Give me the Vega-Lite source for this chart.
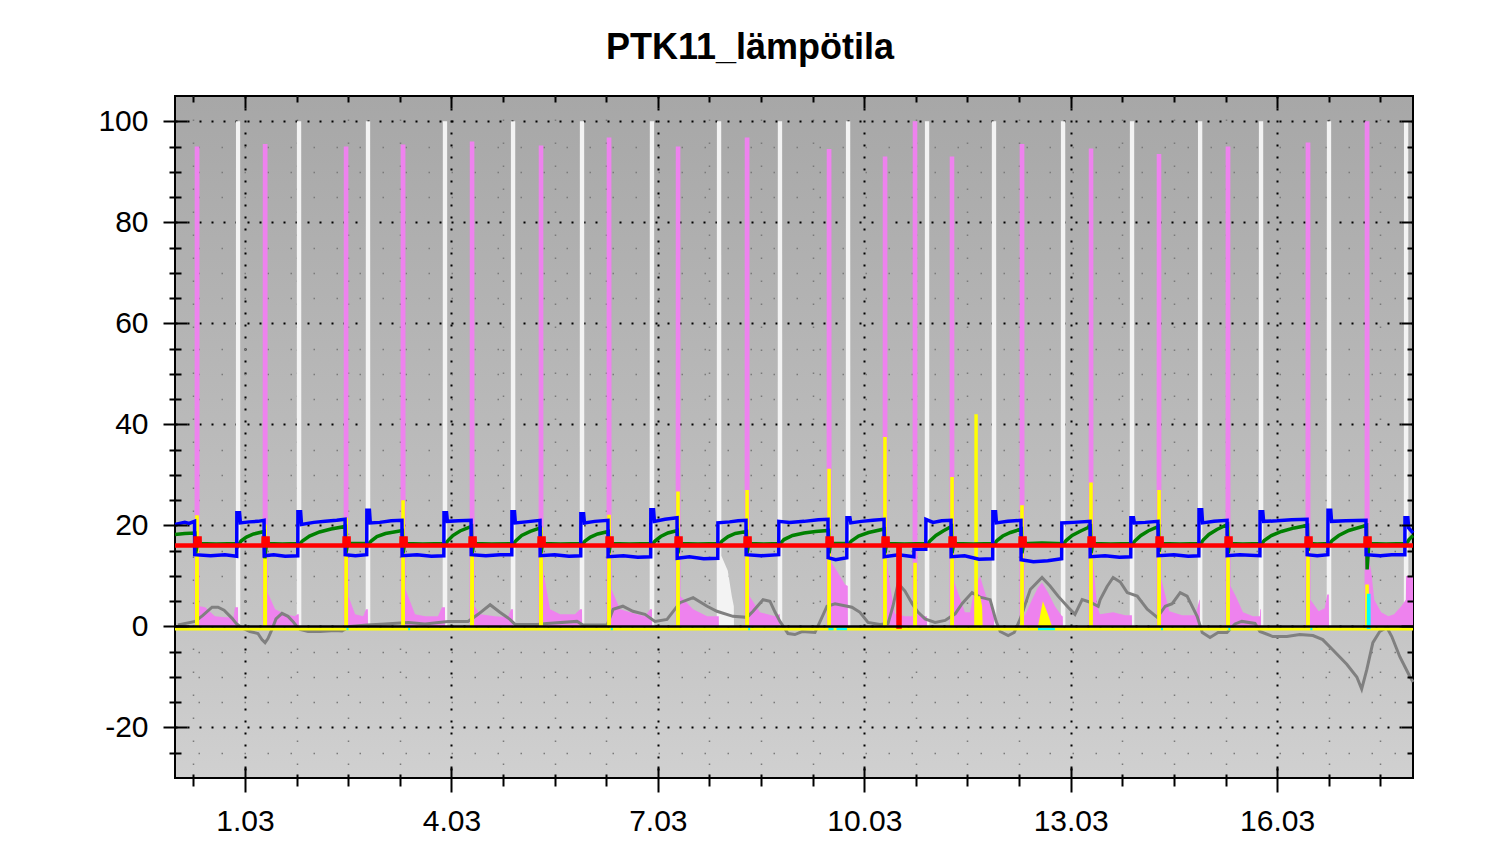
{
  "$schema": "https://vega.github.io/schema/vega-lite/v6.json",
  "width": 1238,
  "height": 682,
  "autosize": "none",
  "padding": {"left": 175, "top": 96, "right": 87, "bottom": 79},
  "background": "#ffffff",
  "title": {"text": "PTK11_lämpötila", "font": "Liberation Sans", "fontSize": 36, "fontWeight": "bold", "color": "#000000", "anchor": "middle", "frame": "bounds", "offset": 28, "dx": -10},
  "config": {
    "view": {"stroke": "#000000", "strokeWidth": 2, "fill": {"gradient": "linear", "x1": 0, "y1": 0, "x2": 0, "y2": 1, "stops": [{"offset": 0, "color": "#a7a7a7"}, {"offset": 0.78, "color": "#c5c5c5"}, {"offset": 1, "color": "#d0d0d0"}]}},
    "axis": {"domain": false, "labels": false, "grid": false, "ticks": true, "tickColor": "#000000", "tickWidth": 2, "labelOverlap": false, "labelBound": false, "labelFlush": false}
  },
  "resolve": {"axis": {"x": "independent", "y": "independent"}},
  "datasets": {
    "ax": [{"h": 0, "v": 0}],
    "white": [
      {"h":-24.4,"v":0},
      {"h":-3.2,"v":0},{"h":-3.15,"v":100},{"h":-1.7,"v":100},{"h":-1.65,"v":0},
      {"h":18.05,"v":0},{"h":18.1,"v":100},{"h":19.6,"v":100},{"h":19.65,"v":0},
      {"h":42.1,"v":0},{"h":42.15,"v":100},{"h":43.65,"v":100},{"h":43.7,"v":0},
      {"h":68.95,"v":0},{"h":69.0,"v":100},{"h":70.5,"v":100},{"h":70.55,"v":0},
      {"h":92.7,"v":0},{"h":92.75,"v":100},{"h":94.25,"v":100},{"h":94.3,"v":0},
      {"h":116.75,"v":0},{"h":116.8,"v":100},{"h":118.3,"v":100},{"h":118.35,"v":0},
      {"h":141.15,"v":0},{"h":141.2,"v":100},{"h":142.7,"v":100},{"h":142.75,"v":0},
      {"h":164.55,"v":0},{"h":164.6,"v":100},{"h":166.1,"v":100},{"h":166.15,"v":14},{"h":168.4,"v":11},{"h":169.8,"v":6},{"h":170.5,"v":4},{"h":170.55,"v":0},
      {"h":185.8,"v":0},{"h":185.85,"v":100},{"h":187.35,"v":100},{"h":187.4,"v":0},
      {"h":209.55,"v":0},{"h":209.6,"v":100},{"h":211.1,"v":100},{"h":211.15,"v":0},
      {"h":237.1,"v":0},{"h":237.15,"v":100},{"h":238.65,"v":100},{"h":238.7,"v":0},
      {"h":260.45,"v":0},{"h":260.5,"v":100},{"h":262.0,"v":100},{"h":262.05,"v":0},
      {"h":284.55,"v":0},{"h":284.6,"v":100},{"h":286.1,"v":100},{"h":286.15,"v":0},
      {"h":308.6,"v":0},{"h":308.65,"v":100},{"h":310.15,"v":100},{"h":310.2,"v":0},
      {"h":332.35,"v":0},{"h":332.4,"v":100},{"h":333.9,"v":100},{"h":333.95,"v":0},
      {"h":353.6,"v":0},{"h":353.65,"v":100},{"h":355.15,"v":100},{"h":355.2,"v":0},
      {"h":377.3,"v":0},{"h":377.35,"v":100},{"h":378.85,"v":100},{"h":378.9,"v":0},
      {"h":404.2,"v":0},{"h":404.25,"v":100},{"h":405.75,"v":100},{"h":405.8,"v":0},
      {"h":407.4,"v":0}
    ],
    "pink": [
      {"h":-24.4,"v":0},
      {"h":-17.6,"v":0},{"h":-17.55,"v":95},{"h":-15.9,"v":95},{"h":-15.85,"v":4.0},{"h":-13.9,"v":3.8},{"h":-10.5,"v":2.0},{"h":-7.0,"v":1.8},{"h":-4.0,"v":1.8},{"h":-3.5,"v":3.8},{"h":-2.45,"v":3.8},{"h":-2.4,"v":0},
      {"h":6.15,"v":0},{"h":6.2,"v":95.5},{"h":7.85,"v":95.5},{"h":7.9,"v":6.7},{"h":10.5,"v":3.4},{"h":14.0,"v":2.4},{"h":17.4,"v":2.0},{"h":18.3,"v":2.4},{"h":18.75,"v":2.4},{"h":18.8,"v":0},
      {"h":34.4,"v":0},{"h":34.45,"v":95},{"h":36.05,"v":95},{"h":36.1,"v":6.0},{"h":38.4,"v":2.4},{"h":41.2,"v":2.0},{"h":42.2,"v":3.4},{"h":42.85,"v":3.4},{"h":42.9,"v":0},
      {"h":54.25,"v":0},{"h":54.3,"v":95.4},{"h":55.95,"v":95.4},{"h":56.0,"v":7.3},{"h":59.3,"v":2.4},{"h":62.8,"v":2.0},{"h":67.3,"v":2.0},{"h":68.7,"v":3.8},{"h":69.75,"v":3.8},{"h":69.8,"v":0},
      {"h":78.35,"v":0},{"h":78.4,"v":96},{"h":80.0,"v":96},{"h":80.05,"v":4.0},{"h":82.0,"v":2.4},{"h":87.2,"v":2.0},{"h":91.7,"v":1.8},{"h":92.8,"v":3.4},{"h":93.45,"v":3.4},{"h":93.5,"v":0},
      {"h":102.4,"v":0},{"h":102.45,"v":95.2},{"h":104.05,"v":95.2},{"h":104.1,"v":10.7},{"h":106.4,"v":3.4},{"h":109.9,"v":2.4},{"h":115.1,"v":2.4},{"h":116.9,"v":3.4},{"h":117.55,"v":3.4},{"h":117.6,"v":0},
      {"h":126.1,"v":0},{"h":126.15,"v":96.8},{"h":127.8,"v":96.8},{"h":127.85,"v":7.3},{"h":130.8,"v":3.4},{"h":136.7,"v":2.4},{"h":139.5,"v":2.0},{"h":141.3,"v":3.4},{"h":141.95,"v":3.4},{"h":142.0,"v":0},
      {"h":150.2,"v":0},{"h":150.25,"v":95},{"h":151.85,"v":95},{"h":151.9,"v":6.0},{"h":156.3,"v":3.4},{"h":161.2,"v":2.0},{"h":165.25,"v":2.0},{"h":165.3,"v":0},
      {"h":174.25,"v":0},{"h":174.3,"v":96.8},{"h":175.95,"v":96.8},{"h":176.0,"v":6.0},{"h":179.6,"v":2.8},{"h":184.9,"v":2.0},{"h":186.3,"v":2.4},{"h":186.55,"v":2.4},{"h":186.6,"v":0},
      {"h":202.85,"v":0},{"h":202.9,"v":94.5},{"h":204.55,"v":94.5},{"h":204.6,"v":12.6},{"h":206.6,"v":10.9},{"h":209.3,"v":8.3},{"h":210.25,"v":8.0},{"h":210.3,"v":0},
      {"h":222.4,"v":0},{"h":222.45,"v":93},{"h":224.05,"v":93},{"h":224.1,"v":12},{"h":225.0,"v":8},{"h":226.7,"v":2.5},{"h":230.2,"v":2.0},{"h":232.85,"v":2.0},{"h":232.9,"v":100},{"h":234.5,"v":100},{"h":234.55,"v":2.4},{"h":237.2,"v":2.0},{"h":237.85,"v":2.0},{"h":237.9,"v":0},
      {"h":245.75,"v":0},{"h":245.8,"v":93},{"h":247.4,"v":93},{"h":247.45,"v":8.7},{"h":251.1,"v":2.8},{"h":252.9,"v":2.8},{"h":254.6,"v":8},{"h":256.4,"v":9.9},{"h":258.5,"v":6},{"h":260.6,"v":3.4},{"h":261.25,"v":3.4},{"h":261.3,"v":0},
      {"h":270.15,"v":0},{"h":270.2,"v":95.5},{"h":271.85,"v":95.5},{"h":271.9,"v":2.0},{"h":274.5,"v":5.3},{"h":276.6,"v":7.7},{"h":278.0,"v":8.7},{"h":280.1,"v":6.7},{"h":282.5,"v":4.0},{"h":285.0,"v":2.0},{"h":285.25,"v":2.0},{"h":285.3,"v":0},
      {"h":294.25,"v":0},{"h":294.3,"v":94.6},{"h":295.9,"v":94.6},{"h":295.95,"v":12},{"h":297.2,"v":4.0},{"h":298.2,"v":2.4},{"h":302.8,"v":2.8},{"h":307.0,"v":2.2},{"h":309.35,"v":2.2},{"h":309.4,"v":0},
      {"h":317.95,"v":0},{"h":318.0,"v":93.5},{"h":319.6,"v":93.5},{"h":319.65,"v":9.3},{"h":322.4,"v":3.0},{"h":326.9,"v":2.2},{"h":331.5,"v":2.2},{"h":332.9,"v":5.3},{"h":333.05,"v":5.3},{"h":333.1,"v":0},
      {"h":342.0,"v":0},{"h":342.05,"v":95},{"h":343.7,"v":95},{"h":343.75,"v":8},{"h":345.6,"v":6},{"h":348.1,"v":2.8},{"h":351.6,"v":2.0},{"h":354.0,"v":2.0},{"h":354.1,"v":3.4},{"h":354.35,"v":3.4},{"h":354.4,"v":0},
      {"h":369.9,"v":0},{"h":369.95,"v":95.8},{"h":371.6,"v":95.8},{"h":371.65,"v":5.3},{"h":374.5,"v":3.0},{"h":376.6,"v":3.6},{"h":377.5,"v":6.3},{"h":378.05,"v":6.3},{"h":378.1,"v":0},
      {"h":390.5,"v":0},{"h":390.55,"v":100},{"h":392.2,"v":100},{"h":392.25,"v":12.6},{"h":392.8,"v":11},{"h":393.9,"v":5.3},{"h":396.3,"v":2.8},{"h":398.8,"v":2.0},{"h":400.8,"v":2.4},{"h":403.3,"v":4.0},{"h":404.9,"v":5.3},{"h":405.0,"v":10},{"h":407.4,"v":10}
    ],
    "gray": [
      {"h":-23.4,"v":0.3},{"h":-17.4,"v":1.0},{"h":-14.7,"v":2.2},{"h":-11.5,"v":3.8},{"h":-9.4,"v":3.8},{"h":-7.3,"v":3.2},{"h":-4.5,"v":1.6},{"h":-3.1,"v":0.6},{"h":-1.0,"v":-0.3},{"h":1.7,"v":-1.0},{"h":4.5,"v":-1.4},{"h":5.9,"v":-2.6},{"h":7.0,"v":-3.2},{"h":8.0,"v":-2.4},{"h":9.4,"v":-0.6},{"h":10.8,"v":1.5},{"h":12.9,"v":2.6},{"h":15.0,"v":2.0},{"h":16.7,"v":1.0},{"h":17.8,"v":0.2},{"h":19.2,"v":-0.6},{"h":22.0,"v":-1.0},{"h":26.2,"v":-1.0},{"h":31.4,"v":-0.8},{"h":33.8,"v":-0.9},{"h":36.6,"v":0},{"h":42.6,"v":0.3},{"h":48.8,"v":0.5},{"h":56.9,"v":0.8},{"h":62.8,"v":0.5},{"h":70.8,"v":1.0},{"h":77.8,"v":1.0},{"h":81.3,"v":2.4},{"h":85.5,"v":4.3},{"h":88.9,"v":2.8},{"h":92.4,"v":1.4},{"h":94.2,"v":0.4},{"h":101.9,"v":0.4},{"h":105.3,"v":0.6},{"h":115.8,"v":1.0},{"h":117.9,"v":0.3},{"h":126.3,"v":0.3},{"h":128.4,"v":3.4},{"h":131.8,"v":4.0},{"h":135.3,"v":3.0},{"h":139.5,"v":2.4},{"h":143.0,"v":1.0},{"h":147.2,"v":1.4},{"h":151.7,"v":4.7},{"h":156.3,"v":5.7},{"h":161.2,"v":4.0},{"h":164.6,"v":3.0},{"h":170.2,"v":2.0},{"h":175.1,"v":1.8},{"h":177.2,"v":3.0},{"h":180.7,"v":5.3},{"h":183.1,"v":5.0},{"h":184.9,"v":2.8},{"h":186.6,"v":1.0},{"h":189.4,"v":-1.4},{"h":191.8,"v":-1.6},{"h":194.3,"v":-1.0},{"h":198.8,"v":-1.2},{"h":200.6,"v":1.0},{"h":203.0,"v":4.0},{"h":205.8,"v":4.5},{"h":211.7,"v":3.8},{"h":214.5,"v":2.8},{"h":217.3,"v":0.8},{"h":221.5,"v":0.4},{"h":224.3,"v":0.6},{"h":226.0,"v":4.0},{"h":227.8,"v":8.5},{"h":230.2,"v":7.0},{"h":232.7,"v":4.5},{"h":234.8,"v":2.8},{"h":237.2,"v":1.5},{"h":240.7,"v":0.8},{"h":244.2,"v":1.2},{"h":247.7,"v":2.5},{"h":250.1,"v":4.5},{"h":253.6,"v":6.7},{"h":256.4,"v":5.8},{"h":259.9,"v":5.3},{"h":262.0,"v":1.0},{"h":263.4,"v":-1.0},{"h":266.2,"v":-1.8},{"h":268.3,"v":-1.2},{"h":270.4,"v":1.5},{"h":273.9,"v":7.3},{"h":278.0,"v":9.7},{"h":280.8,"v":8.0},{"h":283.6,"v":6.0},{"h":287.1,"v":3.8},{"h":289.5,"v":2.4},{"h":292.0,"v":5.3},{"h":294.8,"v":4.8},{"h":297.6,"v":4.0},{"h":298.3,"v":5.3},{"h":300.7,"v":7.9},{"h":302.8,"v":9.7},{"h":305.3,"v":8.8},{"h":307.7,"v":6.7},{"h":311.2,"v":6.0},{"h":314.7,"v":3.4},{"h":318.2,"v":1.8},{"h":321.0,"v":4.0},{"h":323.4,"v":4.5},{"h":326.2,"v":6.7},{"h":328.6,"v":6.0},{"h":332.1,"v":2.0},{"h":333.9,"v":-1.2},{"h":336.6,"v":-2.2},{"h":339.4,"v":-1.2},{"h":342.5,"v":-1.2},{"h":345.3,"v":0.5},{"h":347.7,"v":1.0},{"h":352.3,"v":0.6},{"h":354.0,"v":-1.0},{"h":358.5,"v":-2.0},{"h":363.4,"v":-2.0},{"h":367.9,"v":-1.6},{"h":372.5,"v":-1.8},{"h":375.9,"v":-2.6},{"h":379.4,"v":-4.6},{"h":384.3,"v":-7.5},{"h":387.8,"v":-10.0},{"h":389.5,"v":-12.4},{"h":391.3,"v":-8.5},{"h":393.4,"v":-3.2},{"h":395.8,"v":-1.0},{"h":398.3,"v":-0.2},{"h":400.0,"v":-2.0},{"h":402.8,"v":-6.0},{"h":406.3,"v":-9.9},{"h":407.4,"v":-11.0}
    ],
    "yellow": [
      {"h":-24.4,"v":0},
      {"h":-17.45,"v":0},{"h":-17.4,"v":22},{"h":-16.1,"v":22},{"h":-16.05,"v":0},
      {"h":6.3,"v":0},{"h":6.35,"v":20.2},{"h":7.65,"v":20.2},{"h":7.7,"v":0},
      {"h":34.6,"v":0},{"h":34.65,"v":21.5},{"h":35.9,"v":21.5},{"h":35.95,"v":0},
      {"h":54.45,"v":0},{"h":54.5,"v":25},{"h":55.75,"v":25},{"h":55.8,"v":0},
      {"h":78.5,"v":0},{"h":78.55,"v":16.5},{"h":79.85,"v":16.5},{"h":79.9,"v":0},
      {"h":102.55,"v":0},{"h":102.6,"v":19.6},{"h":103.9,"v":19.6},{"h":103.95,"v":0},
      {"h":126.3,"v":0},{"h":126.35,"v":22.1},{"h":127.6,"v":22.1},{"h":127.65,"v":0},
      {"h":150.35,"v":0},{"h":150.4,"v":26.7},{"h":151.65,"v":26.7},{"h":151.7,"v":0},
      {"h":174.45,"v":0},{"h":174.5,"v":27},{"h":175.75,"v":27},{"h":175.8,"v":0},
      {"h":203.05,"v":0},{"h":203.1,"v":31.2},{"h":204.35,"v":31.2},{"h":204.4,"v":0},
      {"h":222.55,"v":0},{"h":222.6,"v":37.5},{"h":223.85,"v":37.5},{"h":223.9,"v":0},
      {"h":233.05,"v":0},{"h":233.1,"v":12.6},{"h":234.35,"v":12.6},{"h":234.4,"v":0},
      {"h":245.95,"v":0},{"h":246.0,"v":29.6},{"h":247.25,"v":29.6},{"h":247.3,"v":0},
      {"h":254.35,"v":0},{"h":254.4,"v":42},{"h":255.6,"v":42},{"h":255.65,"v":6},{"h":256.4,"v":6},{"h":257.1,"v":4},{"h":257.3,"v":0},
      {"h":270.35,"v":0},{"h":270.4,"v":24},{"h":271.65,"v":24},{"h":271.7,"v":0},
      {"h":276.6,"v":0},{"h":278.3,"v":5},{"h":280.0,"v":2.5},{"h":281.5,"v":0},
      {"h":294.4,"v":0},{"h":294.45,"v":28.5},{"h":295.7,"v":28.5},{"h":295.75,"v":0},
      {"h":318.15,"v":0},{"h":318.2,"v":27},{"h":319.45,"v":27},{"h":319.5,"v":0},
      {"h":342.2,"v":0},{"h":342.25,"v":19.6},{"h":343.5,"v":19.6},{"h":343.55,"v":0},
      {"h":370.1,"v":0},{"h":370.15,"v":17.2},{"h":371.4,"v":17.2},{"h":371.45,"v":0},
      {"h":390.7,"v":0},{"h":390.75,"v":8.3},{"h":392.0,"v":8.3},{"h":392.05,"v":0},
      {"h":407.4,"v":0}
    ],
    "cyan": [
      {"s":1,"h":35.4,"v":0},{"s":1,"h":36.1,"v":0},
      {"s":2,"h":56.9,"v":0},{"s":2,"h":57.6,"v":0},
      {"s":3,"h":127.6,"v":0},{"s":3,"h":128.3,"v":0},
      {"s":4,"h":175.5,"v":0},{"s":4,"h":176.2,"v":0},
      {"s":5,"h":203.5,"v":0},{"s":5,"h":205.3,"v":0},
      {"s":6,"h":206.3,"v":0},{"s":6,"h":210.0,"v":0},
      {"s":7,"h":276.6,"v":0},{"s":7,"h":282.5,"v":0},
      {"s":8,"h":319.5,"v":0},{"s":8,"h":320.2,"v":0},
      {"s":9,"h":343.0,"v":0},{"s":9,"h":343.7,"v":0},
      {"s":10,"h":371.6,"v":0},{"s":10,"h":372.3,"v":0},
      {"s":11,"h":391.7,"v":0},{"s":11,"h":391.75,"v":6.7},{"s":11,"h":392.15,"v":6.7},{"s":11,"h":392.2,"v":0}
    ],
    "green": [
      {"h":-24.4,"v":18.2},{"h":-21,"v":18.4},{"h":-17.5,"v":18.5},{"h":-17.2,"v":14.5},{"h":-16.6,"v":16.4},{"h":-10,"v":16.3},{"h":-2.5,"v":16.4},
      {"h":-2.4,"v":16.0},{"h":-1.4,"v":16.9},{"h":0.5,"v":17.7},{"h":3,"v":18.3},{"h":6.7,"v":18.8},{"h":6.9,"v":13.5},{"h":7.5,"v":16.4},{"h":13,"v":16.3},{"h":18.8,"v":16.4},
      {"h":18.85,"v":16.2},{"h":20,"v":16.9},{"h":22.5,"v":17.9},{"h":26,"v":18.7},{"h":30,"v":19.3},{"h":35.0,"v":19.8},{"h":35.2,"v":14.5},{"h":35.8,"v":16.4},{"h":42.85,"v":16.4},
      {"h":42.9,"v":16.2},{"h":44,"v":16.9},{"h":46,"v":17.8},{"h":49,"v":18.4},{"h":54.9,"v":19.0},{"h":55.1,"v":14.5},{"h":55.7,"v":16.4},{"h":62,"v":16.3},{"h":69.7,"v":16.4},
      {"h":69.8,"v":16.2},{"h":70.8,"v":17.0},{"h":72.5,"v":18.0},{"h":75,"v":18.9},{"h":79.0,"v":19.8},{"h":79.2,"v":14.5},{"h":79.8,"v":16.4},{"h":86,"v":16.3},{"h":93.45,"v":16.4},
      {"h":93.5,"v":16.2},{"h":94.5,"v":17.0},{"h":96.5,"v":18.0},{"h":99.5,"v":18.8},{"h":103.0,"v":19.5},{"h":103.2,"v":14.5},{"h":103.8,"v":16.4},{"h":110,"v":16.3},{"h":117.5,"v":16.4},
      {"h":117.6,"v":16.2},{"h":118.6,"v":16.9},{"h":120.5,"v":17.7},{"h":123,"v":18.3},{"h":126.7,"v":18.8},{"h":126.9,"v":14.5},{"h":127.5,"v":16.4},{"h":134,"v":16.3},{"h":141.9,"v":16.4},
      {"h":142.0,"v":16.2},{"h":143,"v":16.9},{"h":145,"v":17.8},{"h":147.5,"v":18.5},{"h":150.8,"v":19.0},{"h":151.0,"v":14.5},{"h":151.6,"v":16.4},{"h":158,"v":16.3},{"h":165.3,"v":16.4},
      {"h":165.4,"v":16.2},{"h":166.4,"v":16.9},{"h":168.5,"v":17.8},{"h":171,"v":18.4},{"h":174.9,"v":18.8},{"h":175.1,"v":14.5},{"h":175.7,"v":16.4},{"h":181,"v":16.3},{"h":186.6,"v":16.4},
      {"h":186.7,"v":16.4},{"h":188,"v":17.2},{"h":191,"v":18.0},{"h":195,"v":18.5},{"h":199,"v":18.8},{"h":203.5,"v":19.0},{"h":203.7,"v":14.5},{"h":204.3,"v":16.4},{"h":210.3,"v":16.4},
      {"h":210.4,"v":16.2},{"h":211.5,"v":16.9},{"h":214,"v":17.9},{"h":217.5,"v":18.6},{"h":223.0,"v":19.3},{"h":223.2,"v":14.5},{"h":223.8,"v":16.4},{"h":230,"v":16.3},{"h":237.9,"v":16.4},
      {"h":238.0,"v":16.2},{"h":239,"v":17.0},{"h":241,"v":18.0},{"h":243.5,"v":18.9},{"h":246.4,"v":19.8},{"h":246.6,"v":14.5},{"h":247.2,"v":16.4},{"h":254,"v":16.3},{"h":261.2,"v":16.4},
      {"h":261.3,"v":16.2},{"h":262.3,"v":17.0},{"h":264.3,"v":17.9},{"h":267,"v":18.6},{"h":270.8,"v":19.3},{"h":271.0,"v":14.5},{"h":271.6,"v":16.4},{"h":278,"v":16.5},{"h":285.3,"v":16.4},
      {"h":285.4,"v":16.2},{"h":286.4,"v":17.0},{"h":288.5,"v":18.0},{"h":291.5,"v":18.9},{"h":294.9,"v":19.8},{"h":295.1,"v":14.5},{"h":295.7,"v":16.4},{"h":302,"v":16.3},{"h":309.4,"v":16.4},
      {"h":309.5,"v":16.2},{"h":310.5,"v":17.0},{"h":312.5,"v":18.0},{"h":315,"v":18.9},{"h":318.6,"v":19.8},{"h":318.8,"v":14.8},{"h":319.4,"v":16.4},{"h":326,"v":16.3},{"h":333.1,"v":16.4},
      {"h":333.2,"v":16.2},{"h":334.2,"v":17.1},{"h":336.2,"v":18.2},{"h":339,"v":19.2},{"h":342.7,"v":20.2},{"h":342.9,"v":14.5},{"h":343.5,"v":16.4},{"h":348,"v":16.3},{"h":354.4,"v":16.4},
      {"h":354.5,"v":16.2},{"h":355.5,"v":17.0},{"h":358,"v":18.0},{"h":361.5,"v":18.8},{"h":366,"v":19.5},{"h":370.6,"v":20.0},{"h":370.8,"v":15.0},{"h":371.4,"v":16.4},{"h":374,"v":16.3},{"h":378.1,"v":16.4},
      {"h":378.2,"v":16.2},{"h":379.2,"v":17.0},{"h":381.5,"v":18.0},{"h":385,"v":19.0},{"h":391.2,"v":20.0},{"h":391.4,"v":11.3},{"h":392.0,"v":16.4},{"h":398,"v":16.3},{"h":404.9,"v":16.4},
      {"h":405.0,"v":16.2},{"h":406,"v":17.2},{"h":407.4,"v":18.0}
    ],
    "blue": [
      {"h":-24.4,"v":20.2},{"h":-21.0,"v":20.6},{"h":-19.5,"v":20.4},{"h":-17.6,"v":20.8},{"h":-17.55,"v":14.2},{"h":-12.0,"v":14.0},{"h":-7.0,"v":14.2},{"h":-2.9,"v":13.9},
      {"h":-2.85,"v":22.5},{"h":-1.9,"v":22.5},{"h":-1.6,"v":20.5},{"h":1.5,"v":20.7},{"h":4.5,"v":20.8},{"h":6.65,"v":21.0},{"h":6.7,"v":14.0},{"h":10,"v":14.2},{"h":14,"v":13.9},{"h":18.4,"v":14.0},
      {"h":18.45,"v":22.7},{"h":19.4,"v":22.7},{"h":19.7,"v":20.2},{"h":24,"v":20.6},{"h":28,"v":20.8},{"h":32,"v":21.0},{"h":34.9,"v":21.2},{"h":34.95,"v":14.2},{"h":38.5,"v":14.0},{"h":42.45,"v":14.2},
      {"h":42.5,"v":23.0},{"h":43.4,"v":23.0},{"h":43.7,"v":20.5},{"h":47,"v":20.6},{"h":51,"v":20.9},{"h":54.75,"v":21.0},{"h":54.8,"v":14.0},{"h":60,"v":14.2},{"h":65,"v":13.9},{"h":69.35,"v":14.0},
      {"h":69.4,"v":22.5},{"h":70.3,"v":22.5},{"h":70.6,"v":20.8},{"h":74.5,"v":20.9},{"h":78.85,"v":21.0},{"h":78.9,"v":14.2},{"h":84,"v":14.0},{"h":89,"v":14.2},{"h":93.05,"v":14.2},
      {"h":93.1,"v":22.7},{"h":94.0,"v":22.7},{"h":94.3,"v":20.5},{"h":98,"v":20.7},{"h":102.9,"v":21.0},{"h":102.95,"v":14.0},{"h":108,"v":14.2},{"h":113,"v":13.9},{"h":117.1,"v":14.0},
      {"h":117.15,"v":22.3},{"h":118.1,"v":22.3},{"h":118.4,"v":20.5},{"h":122,"v":20.8},{"h":126.6,"v":21.0},{"h":126.65,"v":13.8},{"h":132,"v":14.0},{"h":137,"v":13.7},{"h":141.5,"v":13.8},
      {"h":141.55,"v":23.1},{"h":142.5,"v":23.1},{"h":142.8,"v":20.8},{"h":146.5,"v":21.2},{"h":150.7,"v":21.5},{"h":150.75,"v":13.5},{"h":155,"v":13.8},{"h":160,"v":13.4},{"h":164.9,"v":13.5},
      {"h":164.95,"v":20.5},{"h":169,"v":20.7},{"h":172,"v":20.9},{"h":174.75,"v":21.0},{"h":174.8,"v":14.2},{"h":180,"v":14.0},{"h":186.15,"v":14.2},
      {"h":186.2,"v":20.8},{"h":190,"v":20.6},{"h":195,"v":20.8},{"h":200,"v":21.1},{"h":203.35,"v":21.2},{"h":203.4,"v":13.6},{"h":206,"v":13.2},{"h":209.9,"v":13.6},
      {"h":209.95,"v":21.5},{"h":211.0,"v":21.5},{"h":211.3,"v":20.5},{"h":215,"v":20.8},{"h":219,"v":21.0},{"h":222.9,"v":21.2},{"h":222.95,"v":13.8},{"h":228,"v":14.2},{"h":233.3,"v":13.8},{"h":233.35,"v":15.3},{"h":237.45,"v":15.3},
      {"h":237.5,"v":21.2},{"h":240,"v":20.6},{"h":243,"v":20.9},{"h":246.25,"v":21.0},{"h":246.3,"v":13.8},{"h":251,"v":14.0},{"h":256,"v":13.3},{"h":260.8,"v":13.4},
      {"h":260.85,"v":22.7},{"h":261.8,"v":22.7},{"h":262.1,"v":20.5},{"h":266,"v":20.8},{"h":270.65,"v":21.0},{"h":270.7,"v":13.2},{"h":275,"v":12.8},{"h":280,"v":13.0},{"h":284.85,"v":13.4},
      {"h":284.9,"v":20.5},{"h":289,"v":20.6},{"h":294.75,"v":20.8},{"h":294.8,"v":13.8},{"h":300,"v":14.0},{"h":305,"v":13.7},{"h":308.95,"v":13.8},
      {"h":309.0,"v":21.5},{"h":309.9,"v":21.5},{"h":310.2,"v":20.5},{"h":314,"v":20.6},{"h":318.45,"v":20.8},{"h":318.5,"v":14.0},{"h":324,"v":14.2},{"h":329,"v":13.9},{"h":332.7,"v":14.0},
      {"h":332.75,"v":23.1},{"h":333.7,"v":23.1},{"h":334.0,"v":20.5},{"h":338,"v":20.8},{"h":342.55,"v":21.0},{"h":342.6,"v":14.0},{"h":347,"v":14.2},{"h":354.0,"v":14.0},
      {"h":354.05,"v":22.7},{"h":355.0,"v":22.7},{"h":355.3,"v":20.8},{"h":360,"v":20.9},{"h":365,"v":21.1},{"h":370.45,"v":21.2},{"h":370.5,"v":14.2},{"h":374,"v":14.0},{"h":377.7,"v":14.2},
      {"h":377.75,"v":23.0},{"h":378.7,"v":23.0},{"h":379.0,"v":20.8},{"h":384,"v":20.9},{"h":391.0,"v":21.0},{"h":391.05,"v":14.2},{"h":396,"v":14.0},{"h":400,"v":14.2},{"h":404.55,"v":14.2},
      {"h":404.6,"v":21.5},{"h":405.6,"v":21.5},{"h":405.9,"v":19.5},{"h":407.4,"v":18.5}
    ],
    "red": [
      {"h":-24.4,"v":16},
      {"h":-17.29,"v":16},{"h":-17.24,"v":17.4},{"h":-15.84,"v":17.4},{"h":-15.79,"v":16},
      {"h":6.43,"v":16},{"h":6.48,"v":17.4},{"h":7.88,"v":17.4},{"h":7.93,"v":16},
      {"h":34.68,"v":16},{"h":34.73,"v":17.4},{"h":36.13,"v":17.4},{"h":36.18,"v":16},
      {"h":54.56,"v":16},{"h":54.61,"v":17.4},{"h":56.01,"v":17.4},{"h":56.06,"v":16},
      {"h":78.63,"v":16},{"h":78.68,"v":17.4},{"h":80.08,"v":17.4},{"h":80.13,"v":16},
      {"h":102.69,"v":16},{"h":102.74,"v":17.4},{"h":104.14,"v":17.4},{"h":104.19,"v":16},
      {"h":126.41,"v":16},{"h":126.46,"v":17.4},{"h":127.86,"v":17.4},{"h":127.91,"v":16},
      {"h":150.48,"v":16},{"h":150.53,"v":17.4},{"h":151.93,"v":17.4},{"h":151.98,"v":16},
      {"h":174.55,"v":16},{"h":174.6,"v":17.4},{"h":176.0,"v":17.4},{"h":176.05,"v":16},
      {"h":203.15,"v":16},{"h":203.2,"v":17.4},{"h":204.6,"v":17.4},{"h":204.65,"v":16},
      {"h":222.68,"v":16},{"h":222.73,"v":17.4},{"h":224.13,"v":17.4},{"h":224.18,"v":16},
      {"h":227.9,"v":16},{"h":227.95,"v":0},{"h":228.3,"v":0},{"h":228.35,"v":16},
      {"h":246.05,"v":16},{"h":246.1,"v":17.4},{"h":247.5,"v":17.4},{"h":247.55,"v":16},
      {"h":270.47,"v":16},{"h":270.52,"v":17.4},{"h":271.92,"v":17.4},{"h":271.97,"v":16},
      {"h":294.53,"v":16},{"h":294.58,"v":17.4},{"h":295.98,"v":17.4},{"h":296.03,"v":16},
      {"h":318.25,"v":16},{"h":318.3,"v":17.4},{"h":319.7,"v":17.4},{"h":319.75,"v":16},
      {"h":342.32,"v":16},{"h":342.37,"v":17.4},{"h":343.77,"v":17.4},{"h":343.82,"v":16},
      {"h":370.22,"v":16},{"h":370.27,"v":17.4},{"h":371.67,"v":17.4},{"h":371.72,"v":16},
      {"h":390.8,"v":16},{"h":390.85,"v":17.4},{"h":392.25,"v":17.4},{"h":392.3,"v":16},
      {"h":407.4,"v":16}
    ]
  },
  "layer": [
    {
      "data": {"name": "ax"},
      "mark": {"type": "point", "opacity": 0},
      "encoding": {
        "x": {"field": "h", "type": "quantitative", "scale": {"domain": [-24.42, 407.4], "nice": false, "zero": false},
          "axis": {"orient": "bottom", "title": null, "values": [-18, 18, 36, 54, 90, 108, 126, 162, 180, 198, 234, 252, 270, 306, 324, 342, 378, 396], "ticks": false, "grid": true, "gridColor": "#7a7a7a", "gridDash": [1.5, 21.5], "gridWidth": 1.5, "zindex": 0}},
        "y": {"field": "v", "type": "quantitative", "scale": {"domain": [-30, 105], "nice": false, "zero": false},
          "axis": {"orient": "left", "title": null, "values": [-25, -15, -10, -5, 5, 10, 15, 25, 30, 35, 45, 50, 55, 65, 70, 75, 85, 90, 95], "ticks": false, "grid": true, "gridColor": "#7a7a7a", "gridDash": [1.5, 21.5], "gridWidth": 1.5, "zindex": 0}}
      }
    },
    {
      "data": {"name": "ax"},
      "mark": {"type": "point", "opacity": 0},
      "encoding": {
        "x": {"field": "h", "type": "quantitative", "scale": {"domain": [-24.42, 407.4], "nice": false, "zero": false},
          "axis": {"orient": "bottom", "title": null, "values": [0, 72, 144, 216, 288, 360], "labels": true, "labelExpr": "(1 + datum.value / 24) + '.03'", "labelFont": "Liberation Sans", "labelFontSize": 30, "labelColor": "#000000", "labelPadding": 28, "ticks": false, "grid": true, "gridColor": "#000000", "gridDash": [2, 10], "gridWidth": 2, "zindex": 0}},
        "y": {"field": "v", "type": "quantitative", "scale": {"domain": [-30, 105], "nice": false, "zero": false},
          "axis": {"orient": "left", "title": null, "values": [-20, 0, 20, 40, 60, 80, 100], "labels": true, "labelExpr": "'' + datum.value", "labelFont": "Liberation Sans", "labelFontSize": 30, "labelColor": "#000000", "labelPadding": 27, "ticks": false, "grid": true, "gridColor": "#000000", "gridDash": [2, 10], "gridWidth": 2, "zindex": 0}}
      }
    },
    {
      "data": {"name": "ax"},
      "mark": {"type": "point", "opacity": 0},
      "encoding": {
        "x": {"field": "h", "type": "quantitative", "scale": {"domain": [-24.42, 407.4], "nice": false, "zero": false},
          "axis": {"orient": "bottom", "title": null, "offset": -12, "values": [0, 72, 144, 216, 288, 360], "tickSize": 26, "zindex": 1}},
        "y": {"field": "v", "type": "quantitative", "scale": {"domain": [-30, 105], "nice": false, "zero": false},
          "axis": {"orient": "left", "title": null, "offset": -12, "values": [-20, 0, 20, 40, 60, 80, 100], "tickSize": 24, "zindex": 1}}
      }
    },
    {
      "data": {"name": "ax"},
      "mark": {"type": "point", "opacity": 0},
      "encoding": {
        "x": {"field": "h", "type": "quantitative", "scale": {"domain": [-24.42, 407.4], "nice": false, "zero": false},
          "axis": {"orient": "bottom", "title": null, "offset": -4, "values": [-18, 18, 36, 54, 90, 108, 126, 162, 180, 198, 234, 252, 270, 306, 324, 342, 378, 396], "tickSize": 12, "zindex": 1}},
        "y": {"field": "v", "type": "quantitative", "scale": {"domain": [-30, 105], "nice": false, "zero": false},
          "axis": {"orient": "left", "title": null, "offset": -6, "values": [-25, -15, -10, -5, 5, 10, 15, 25, 30, 35, 45, 50, 55, 65, 70, 75, 85, 90, 95], "tickSize": 12, "zindex": 1}}
      }
    },
    {
      "data": {"name": "ax"},
      "mark": {"type": "point", "opacity": 0},
      "encoding": {
        "x": {"field": "h", "type": "quantitative", "scale": {"domain": [-24.42, 407.4], "nice": false, "zero": false},
          "axis": {"orient": "top", "title": null, "offset": -12, "values": [0, 72, 144, 216, 288, 360], "tickSize": 12, "zindex": 1}},
        "y": {"field": "v", "type": "quantitative", "scale": {"domain": [-30, 105], "nice": false, "zero": false},
          "axis": {"orient": "right", "title": null, "offset": -12, "values": [-20, 0, 20, 40, 60, 80, 100], "tickSize": 12, "zindex": 1}}
      }
    },
    {
      "data": {"name": "ax"},
      "mark": {"type": "point", "opacity": 0},
      "encoding": {
        "x": {"field": "h", "type": "quantitative", "scale": {"domain": [-24.42, 407.4], "nice": false, "zero": false},
          "axis": {"orient": "top", "title": null, "offset": -6, "values": [-18, 18, 36, 54, 90, 108, 126, 162, 180, 198, 234, 252, 270, 306, 324, 342, 378, 396], "tickSize": 6, "zindex": 1}},
        "y": {"field": "v", "type": "quantitative", "scale": {"domain": [-30, 105], "nice": false, "zero": false},
          "axis": {"orient": "right", "title": null, "offset": -6, "values": [-25, -15, -10, -5, 5, 10, 15, 25, 30, 35, 45, 50, 55, 65, 70, 75, 85, 90, 95], "tickSize": 6, "zindex": 1}}
      }
    },
    {
      "data": {"name": "white"},
      "mark": {"type": "area", "color": "#f3f3f3", "interpolate": "linear"},
      "encoding": {
        "x": {"field": "h", "type": "quantitative", "axis": null},
        "y": {"field": "v", "type": "quantitative", "axis": null},
        "y2": {"datum": 0}
      }
    },
    {
      "data": {"name": "pink"},
      "mark": {"type": "area", "color": "#ee82ee", "interpolate": "linear"},
      "encoding": {
        "x": {"field": "h", "type": "quantitative", "axis": null},
        "y": {"field": "v", "type": "quantitative", "axis": null},
        "y2": {"datum": 0}
      }
    },
    {
      "data": {"name": "gray"},
      "mark": {"type": "line", "color": "#808080", "strokeWidth": 3},
      "encoding": {
        "x": {"field": "h", "type": "quantitative", "axis": null},
        "y": {"field": "v", "type": "quantitative", "axis": null}
      }
    },
    {
      "data": {"name": "yellow"},
      "mark": {"type": "area", "color": "#ffff00", "interpolate": "linear"},
      "encoding": {
        "x": {"field": "h", "type": "quantitative", "axis": null},
        "y": {"field": "v", "type": "quantitative", "axis": null},
        "y2": {"datum": 0}
      }
    },
    {
      "data": {"name": "ax"},
      "mark": {"type": "rule", "color": "#ffff00", "strokeWidth": 3, "yOffset": 2.5},
      "encoding": {
        "y": {"datum": 0, "type": "quantitative", "axis": null}
      }
    },
    {
      "data": {"name": "cyan"},
      "mark": {"type": "line", "color": "#00ffff", "strokeWidth": 2.5, "yOffset": 2.5},
      "encoding": {
        "x": {"field": "h", "type": "quantitative", "axis": null},
        "y": {"field": "v", "type": "quantitative", "axis": null},
        "detail": {"field": "s", "type": "nominal"}
      }
    },
    {
      "data": {"name": "green"},
      "mark": {"type": "line", "color": "#008000", "strokeWidth": 3.5},
      "encoding": {
        "x": {"field": "h", "type": "quantitative", "axis": null},
        "y": {"field": "v", "type": "quantitative", "axis": null}
      }
    },
    {
      "data": {"name": "blue"},
      "mark": {"type": "line", "color": "#0000ff", "strokeWidth": 3.5},
      "encoding": {
        "x": {"field": "h", "type": "quantitative", "axis": null},
        "y": {"field": "v", "type": "quantitative", "axis": null}
      }
    },
    {
      "data": {"name": "red"},
      "mark": {"type": "line", "color": "#ff0000", "strokeWidth": 4.5},
      "encoding": {
        "x": {"field": "h", "type": "quantitative", "axis": null},
        "y": {"field": "v", "type": "quantitative", "axis": null}
      }
    },
    {
      "data": {"name": "ax"},
      "mark": {"type": "rule", "color": "#000000", "strokeWidth": 2.5},
      "encoding": {
        "y": {"datum": 0, "type": "quantitative", "axis": null}
      }
    }
  ]
}
